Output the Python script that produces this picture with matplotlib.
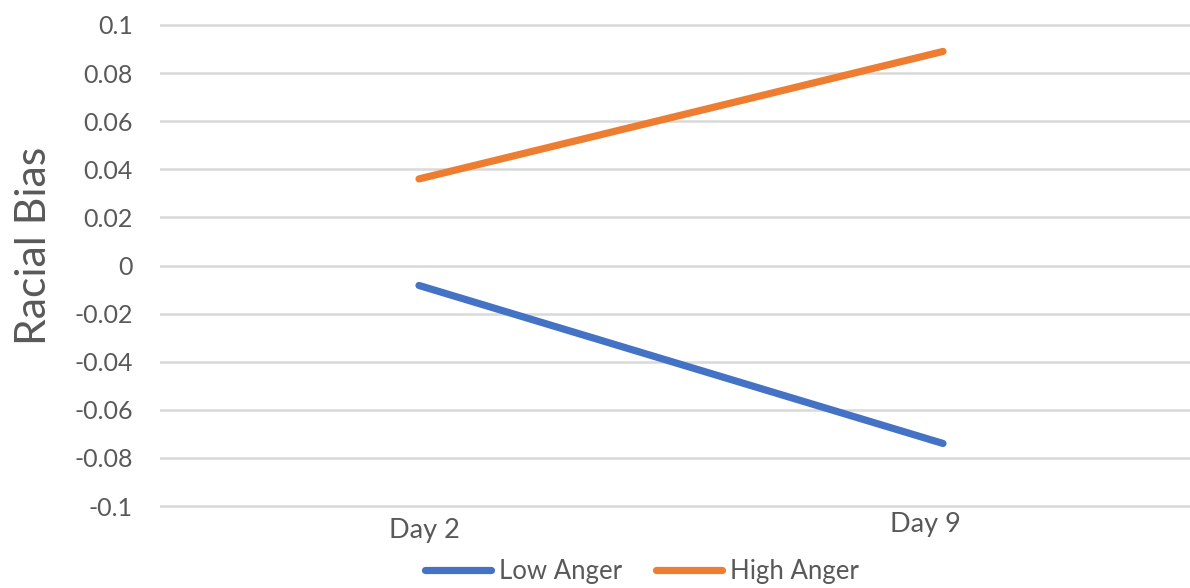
import matplotlib
matplotlib.use("Agg")
import matplotlib.pyplot as plt
from matplotlib.transforms import blended_transform_factory

categories = ["Day 2", "Day 9"]
low_anger = [-0.0083, -0.074]
high_anger = [0.036, 0.089]
yticks = [-0.1, -0.08, -0.06, -0.04, -0.02, 0, 0.02, 0.04, 0.06, 0.08, 0.1]
ytick_labels = ["-0.1", "-0.08", "-0.06", "-0.04", "-0.02", "0", "0.02", "0.04", "0.06", "0.08", "0.1"]

plt.rcParams['font.family'] = ['Lato', 'DejaVu Sans']
TXT = "#595959"
W, H = 1190, 588
fig = plt.figure(figsize=(W / 100, H / 100), dpi=100)
pad = 0.001
ppu = 481 / 0.2
top_px = 25 - pad * ppu
bot_px = 506 + pad * ppu
ax = fig.add_axes([160 / W, 1 - bot_px / H, (W - 160) / W, (bot_px - top_px) / H])

x = list(range(len(categories)))
ax.plot(x, low_anger, color="#4472C4", lw=5.2, solid_capstyle="round", label="Low Anger", zorder=3)
ax.plot(x, high_anger, color="#ED7D31", lw=5.2, solid_capstyle="round", label="High Anger", zorder=3)

ax.set_ylim(-0.1 - pad, 0.1 + pad)
ax.set_xlim(-259 / 524, (W - 160 - 259) / 524)
ax.set_yticks(yticks)
ax.set_yticklabels(ytick_labels)
ax.tick_params(axis="y", length=0, pad=19.5, labelsize=18, labelcolor=TXT)
ax.set_xticks([])
for s in ax.spines.values():
    s.set_visible(False)
ax.grid(axis="y", color="#D9D9D9", lw=1.8)
ax.set_axisbelow(True)

tr = blended_transform_factory(ax.transData, fig.transFigure)
label_offsets = [(0.011, 1 - 538 / H), (-0.034, 1 - 532 / H)]
for i, c in enumerate(categories):
    dx, fy = label_offsets[i]
    ax.text(i + dx, fy, c, transform=tr, ha="center", va="baseline", fontsize=19.5, color=TXT)

fig.text(34 / W, 1 - 246 / H, "Racial Bias", rotation=90, ha="center", va="center", fontsize=30.8, color=TXT)

leg = fig.legend(loc="center", bbox_to_anchor=(642 / W, 1 - 571 / H), ncol=2, frameon=False,
                 fontsize=18.5, labelcolor=TXT, handlelength=2.55, handletextpad=0.3,
                 columnspacing=1.35, borderpad=0, borderaxespad=0)

fig.savefig("out.png", dpi=100)
